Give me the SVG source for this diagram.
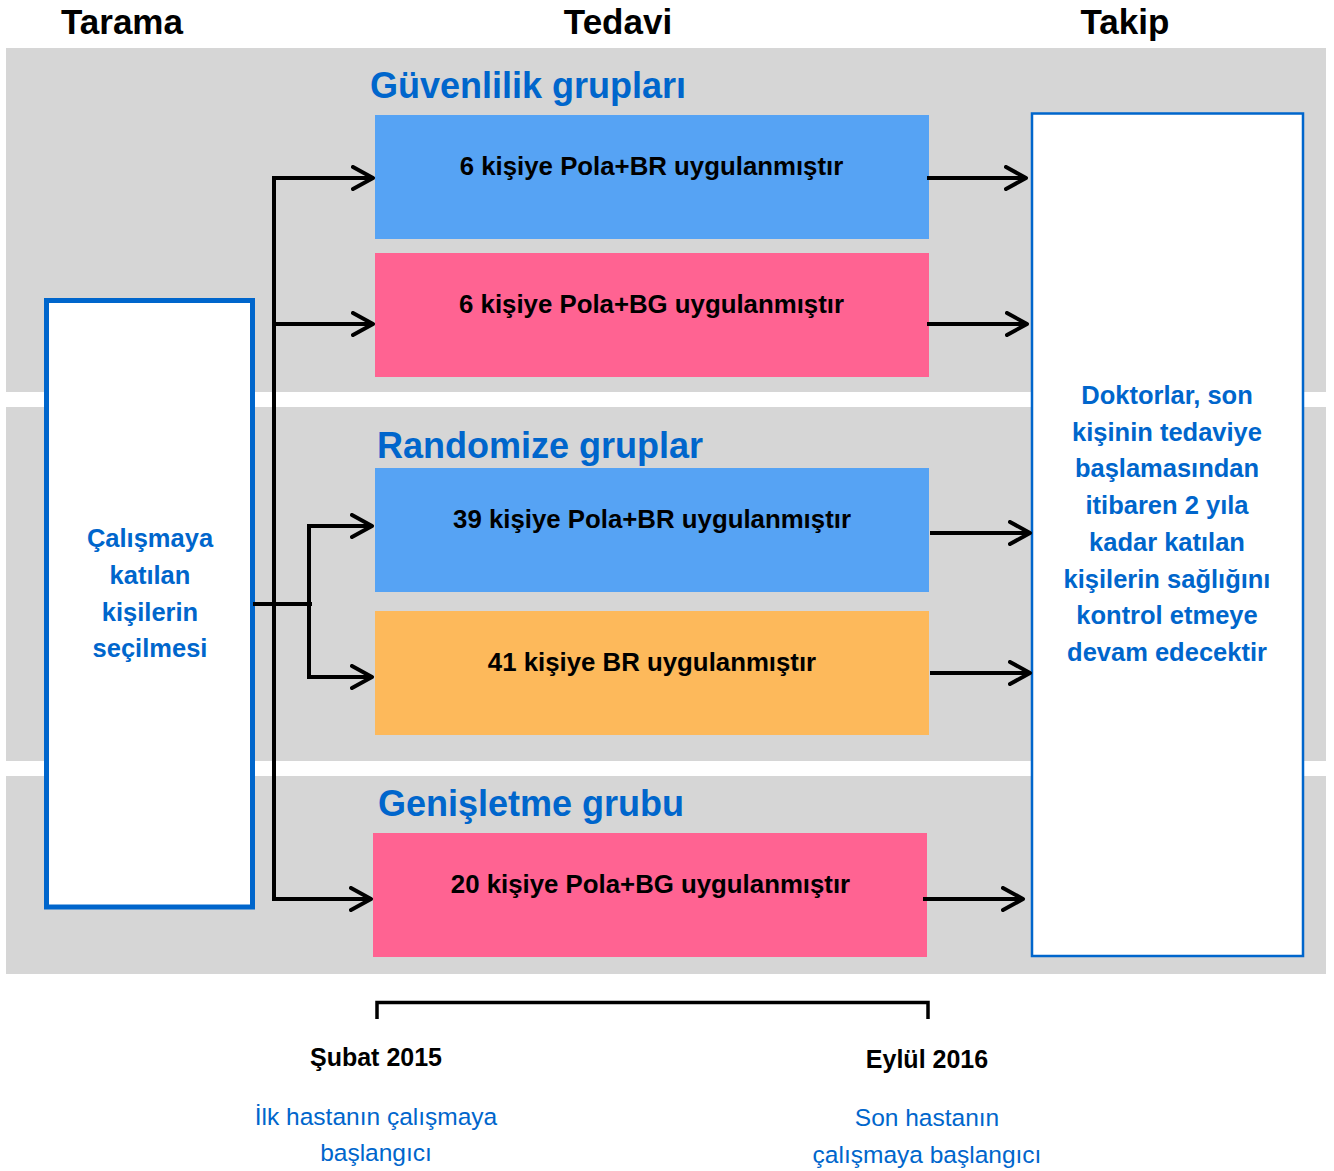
<svg xmlns="http://www.w3.org/2000/svg" width="1334" height="1171" viewBox="0 0 1334 1171">
<defs>
<style>
.hdr{font-family:"Liberation Sans",Arial,sans-serif;font-weight:bold;font-size:35px;fill:#000;text-anchor:middle}
.grp{font-family:"Liberation Sans",Arial,sans-serif;font-weight:bold;font-size:36px;fill:#0066CC}
.box{font-family:"Liberation Sans",Arial,sans-serif;font-weight:bold;font-size:25.8px;fill:#000;text-anchor:middle}
.blu{font-family:"Liberation Sans",Arial,sans-serif;font-weight:bold;font-size:25.5px;fill:#0066CC;text-anchor:middle}
.date{font-family:"Liberation Sans",Arial,sans-serif;font-weight:bold;font-size:25px;fill:#000;text-anchor:middle}
.note{font-family:"Liberation Sans",Arial,sans-serif;font-size:24.5px;fill:#0066CC;text-anchor:middle}
.band{fill:#D6D6D6}
.conn{fill:none;stroke:#000;stroke-width:4}
</style>
<marker id="arr" markerUnits="userSpaceOnUse" viewBox="0 0 26 26" markerWidth="26" markerHeight="26" refX="22" refY="13" orient="auto">
<path d="M2,2 L22,13 L2,24" fill="none" stroke="#000" stroke-width="4" stroke-linecap="round" stroke-linejoin="round"/>
</marker>
</defs>
<rect width="1334" height="1171" fill="#fff"/>
<g id="bands">
<rect class="band" x="6" y="48" width="1320" height="344"/>
<rect class="band" x="6" y="407" width="1320" height="354"/>
<rect class="band" x="6" y="776" width="1320" height="198"/>
</g>
<g id="headers">
<text class="hdr" x="122" y="34">Tarama</text>
<text class="hdr" x="618" y="34">Tedavi</text>
<text class="hdr" x="1125" y="34">Takip</text>
</g>
<g id="group-labels">
<text class="grp" x="370" y="98">Güvenlilik grupları</text>
<text class="grp" x="377" y="458">Randomize gruplar</text>
<text class="grp" x="378" y="816">Genişletme grubu</text>
</g>
<g id="screening">
<rect x="46.5" y="300.5" width="206" height="606.5" fill="#fff" stroke="#0066CC" stroke-width="5"/>
<text class="blu" x="150" y="547">Çalışmaya</text>
<text class="blu" x="150" y="584">katılan</text>
<text class="blu" x="150" y="621">kişilerin</text>
<text class="blu" x="150" y="657">seçilmesi</text>
</g>
<g id="safety-br">
<rect x="375" y="115" width="554" height="124" fill="#56A3F4"/>
<text class="box" x="651.5" y="175">6 kişiye Pola+BR uygulanmıştır</text>
</g>
<g id="safety-bg">
<rect x="375" y="253" width="554" height="124" fill="#FF6392"/>
<text class="box" x="651.5" y="313">6 kişiye Pola+BG uygulanmıştır</text>
</g>
<g id="random-br-pola">
<rect x="375" y="468" width="554" height="124" fill="#56A3F4"/>
<text class="box" x="652" y="528">39 kişiye Pola+BR uygulanmıştır</text>
</g>
<g id="random-br">
<rect x="375" y="611" width="554" height="124" fill="#FDB95B"/>
<text class="box" x="652" y="671">41 kişiye BR uygulanmıştır</text>
</g>
<g id="expansion">
<rect x="373" y="833" width="554" height="124" fill="#FF6392"/>
<text class="box" x="650.5" y="893">20 kişiye Pola+BG uygulanmıştır</text>
</g>
<g id="followup">
<rect x="1032" y="113.5" width="271" height="842.5" fill="#fff" stroke="#0066CC" stroke-width="2.5"/>
<text class="blu" x="1167" y="404">Doktorlar, son</text>
<text class="blu" x="1167" y="441">kişinin tedaviye</text>
<text class="blu" x="1167" y="477">başlamasından</text>
<text class="blu" x="1167" y="514">itibaren 2 yıla</text>
<text class="blu" x="1167" y="551">kadar katılan</text>
<text class="blu" x="1167" y="588">kişilerin sağlığını</text>
<text class="blu" x="1167" y="624">kontrol etmeye</text>
<text class="blu" x="1167" y="661">devam edecektir</text>
</g>
<g id="connectors">
<path class="conn" d="M274,178 V901"/>
<path class="conn" d="M272,178 H373" marker-end="url(#arr)"/>
<path class="conn" d="M274,324 H373" marker-end="url(#arr)"/>
<path class="conn" d="M272,899 H371" marker-end="url(#arr)"/>
<path class="conn" d="M253,604 H312"/>
<path class="conn" d="M309,526 V677"/>
<path class="conn" d="M307,526 H372" marker-end="url(#arr)"/>
<path class="conn" d="M307,677 H372" marker-end="url(#arr)"/>
<path class="conn" d="M927,178 H1026" marker-end="url(#arr)"/>
<path class="conn" d="M927,324 H1027" marker-end="url(#arr)"/>
<path class="conn" d="M930,533 H1030" marker-end="url(#arr)"/>
<path class="conn" d="M930,673 H1030" marker-end="url(#arr)"/>
<path class="conn" d="M923,899 H1023" marker-end="url(#arr)"/>
</g>
<g id="timeline">
<path d="M377,1019 V1002.5 H928 V1019" fill="none" stroke="#000" stroke-width="3.5"/>
<text class="date" x="376" y="1066">Şubat 2015</text>
<text class="date" x="927" y="1068">Eylül 2016</text>
<text class="note" x="376" y="1125">İlk hastanın çalışmaya</text>
<text class="note" x="376" y="1161">başlangıcı</text>
<text class="note" x="927" y="1126">Son hastanın</text>
<text class="note" x="927" y="1163">çalışmaya başlangıcı</text>
</g>
</svg>
